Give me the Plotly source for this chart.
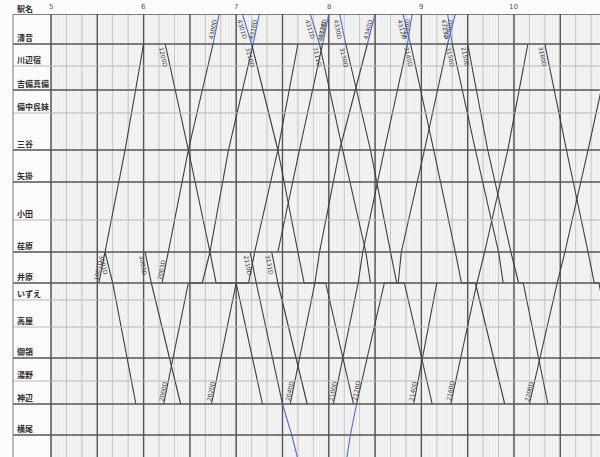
import math
import plotly.graph_objects as go

# ---------------- data ----------------
station_names = ["総社", "清音", "川辺宿", "吉備真備", "備中呉妹", "三谷", "矢掛", "小田",
                 "荏原", "井原", "いずえ", "高屋", "御領", "湯野", "神辺", "横尾", "湯田村"]
station_km = [0, 30, 52, 76, 99, 136, 168, 206, 238, 269, 286, 313, 344, 367, 390, 421, 470]
station_major = [1, 1, 0, 1, 0, 1, 1, 0, 1, 1, 0, 0, 1, 0, 1, 1, 0]
station_labelled = [0, 1, 1, 1, 1, 1, 1, 1, 1, 1, 1, 1, 1, 1, 1, 1, 0]

hour_ticks = [5, 6, 7, 8, 9, 10]
hour_labels = ["5", "6", "7", "8", "9", "10"]

train_ids = ["3001D", "3003D", "1200D", "3110D", "3111D", "3130D", "3140D", "3150D", "2150D", "3160D",
             "2110D", "3131D",
             "1001D", "2003D", "2000D", "2020D", "4311D", "2040D", "2100D", "2120D", "2140D", "2160D", "2200D"]
# number used on the 総社–清音 (JR) section, "" where the train does not run there
train_jr_ids = ["", "", "", "4301D", "4311D", "4330D", "4312D", "4313D", "", "",
                "", "",
                "", "4300D", "4310D", "", "4320D", "4340D", "4350D", "4360D", "", "", ""]
train_stations = [
    ["荏原", "井原", "神辺"],
    ["荏原", "井原", "神辺"],
    ["清音", "三谷", "荏原", "井原", "井原", "神辺"],
    ["総社", "清音", "三谷", "荏原", "井原", "井原", "神辺"],
    ["総社", "清音", "三谷", "荏原", "井原"],
    ["総社", "清音", "三谷", "荏原", "井原", "井原", "神辺"],
    ["総社", "清音", "三谷", "荏原", "井原", "井原", "神辺"],
    ["総社", "清音", "三谷", "荏原", "井原"],
    ["清音", "三谷", "荏原", "井原", "井原", "神辺"],
    ["清音", "三谷", "荏原", "井原", "井原", "神辺"],
    ["荏原", "井原", "神辺", "横尾", "湯田村"],
    ["荏原", "井原", "神辺"],
    ["井原", "荏原", "三谷", "清音"],
    ["井原", "荏原", "三谷", "清音", "総社"],
    ["神辺", "井原", "井原", "荏原", "三谷", "清音", "総社"],
    ["神辺", "井原", "井原", "荏原", "三谷", "清音"],
    ["荏原", "三谷", "清音", "総社"],
    ["神辺", "井原", "荏原", "三谷", "清音", "総社"],
    ["神辺", "井原", "荏原", "三谷", "清音", "総社"],
    ["湯田村", "横尾", "神辺", "井原", "井原", "荏原", "三谷", "清音", "総社"],
    ["神辺", "井原"],
    ["神辺", "井原", "荏原", "三谷", "清音"],
    ["神辺", "井原", "荏原", "三谷", "清音"],
]
train_times = [
    ["5:35", "5:40", "5:55"],
    ["6:01", "6:05", "6:24"],
    ["6:14", "6:29", "6:43", "6:47", "7:00", "7:17"],
    ["7:04", "7:10", "7:27", "7:40", "7:44", "7:58", "8:16"],
    ["7:48", "7:54", "8:09", "8:24", "8:27"],
    ["8:07", "8:11", "8:27", "8:40", "8:44", "8:49", "9:07"],
    ["8:48", "8:53", "9:08", "9:22", "9:26", "9:35", "9:54"],
    ["9:17", "9:20", "9:35", "9:50", "9:53"],
    ["9:30", "9:43", "9:58", "10:03", "10:06", "10:22"],
    ["10:20", "10:34", "10:48", "10:52", "10:55", "11:11"],
    ["7:09", "7:13", "7:30", "7:36", "7:44"],
    ["7:23", "7:27", "7:46"],
    ["5:31", "5:35", "5:48", "6:00"],
    ["6:12", "6:16", "6:29", "6:45", "6:49"],
    ["6:13", "6:29", "6:38", "6:43", "6:55", "7:11", "7:15"],
    ["6:44", "7:00", "7:08", "7:12", "7:27", "7:40"],
    ["7:27", "7:41", "7:56", "8:00"],
    ["7:35", "7:51", "7:54", "8:07", "8:25", "8:30"],
    ["8:03", "8:19", "8:22", "8:36", "8:51", "8:54"],
    ["8:09", "8:14", "8:18", "8:36", "8:45", "8:47", "9:02", "9:17", "9:22"],
    ["8:55", "9:10"],
    ["9:19", "9:36", "9:41", "9:56", "10:09"],
    ["10:10", "10:28", "10:33", "10:48", "11:03"],
]
# station next to which each train number is written
train_label_at = ["荏原", "荏原", "清音", "清音", "清音", "清音", "清音", "清音", "清音", "清音",
                  "荏原", "荏原",
                  "井原", "井原", "神辺", "神辺", "清音", "神辺", "神辺", "神辺", "神辺", "神辺", "神辺"]

# ---------------- helpers ----------------
pos = dict(zip(station_names, station_km))
outer = {"総社", "横尾", "湯田村"}


def to_h(s):
    h, m = s.split(":")
    return int(h) + int(m) / 60.0


X0, X1 = 4.5896, 10.929
Y_BOTTOM = 443
PX_PER_H = 587 / (X1 - X0)

fig = go.Figure()


def vlines(step_min, color, width):
    xs, ys = [], []
    m = 0
    while 5 + m / 60.0 <= X1:
        xs += [5 + m / 60.0, 5 + m / 60.0, None]
        ys += [0, Y_BOTTOM, None]
        m += step_min
    fig.add_trace(go.Scatter(x=xs, y=ys, mode="lines", line=dict(color=color, width=width),
                             hoverinfo="skip", showlegend=False))


vlines(1, "#ebebeb", 1)
vlines(10, "#c4c4c4", 1)
vlines(30, "#555555", 1.4)

for name, km, major in zip(station_names, station_km, station_major):
    if km > Y_BOTTOM:
        continue
    fig.add_shape(type="line", xref="paper", x0=0, x1=1, y0=km, y1=km,
                  line=dict(color="#555555" if major else "#b8b8b8", width=1.4 if major else 1))

fig.add_shape(type="line", xref="paper", yref="paper", x0=0, x1=0, y0=0, y1=1,
              line=dict(color="#777777", width=1))


def add_label(text, sts, tms, at, frac_px):
    i = sts.index(at)
    if i == len(sts) - 1:
        i -= 1
    j = i + 1
    xa, ya = to_h(tms[i]), pos[sts[i]]
    xb, yb = to_h(tms[j]), pos[sts[j]]
    dy = yb - ya
    f = min(0.5, frac_px / abs(dy)) if dy else 0.5
    lx, ly = xa + (xb - xa) * f, ya + dy * f
    ang = math.degrees(math.atan2(dy, (xb - xa) * PX_PER_H))
    if ang > 90:
        ang -= 180
    if ang < -90:
        ang += 180
    fig.add_annotation(x=lx, y=ly, text=text, showarrow=False, textangle=ang, xshift=-4,
                       font=dict(size=6, color="#3a3a3a", family="DejaVu Sans"))


kx, ky, bx, by = [], [], [], []
for tid, jid, sts, tms, lab in zip(train_ids, train_jr_ids, train_stations, train_times, train_label_at):
    for i in range(len(sts) - 1):
        a, b = sts[i], sts[i + 1]
        seg_x = [to_h(tms[i]), to_h(tms[i + 1]), None]
        seg_y = [pos[a], pos[b], None]
        if a in outer or b in outer:
            bx += seg_x; by += seg_y
        else:
            kx += seg_x; ky += seg_y
    if lab:
        add_label(tid, sts, tms, lab, 13.0)
    if jid:
        add_label(jid, sts, tms, "総社", 15.0)

fig.add_trace(go.Scatter(x=kx, y=ky, mode="lines", line=dict(color="#3a3a3a", width=1.1),
                         hoverinfo="skip", showlegend=False))
fig.add_trace(go.Scatter(x=bx, y=by, mode="lines", line=dict(color="#4a6fd8", width=1.1),
                         hoverinfo="skip", showlegend=False))

for name, km, lab in zip(station_names, station_km, station_labelled):
    if not lab:
        continue
    fig.add_annotation(xref="paper", x=0.003, y=km, yanchor="bottom", xanchor="left",
                       text="<b>" + name + "</b>", showarrow=False, yshift=-1,
                       font=dict(size=8, color="#2e2e2e", family="Noto Sans CJK JP"))

fig.add_annotation(xref="paper", yref="paper", x=0.003, y=1, yanchor="bottom", xanchor="left",
                   text="<b>駅名</b>", showarrow=False, yshift=-2,
                   font=dict(size=8, color="#2e2e2e", family="Noto Sans CJK JP"))

for h, lab in zip(hour_ticks, hour_labels):
    fig.add_annotation(x=h, yref="paper", y=1, yanchor="bottom", xanchor="center",
                       text=lab, showarrow=False, yshift=1,
                       font=dict(size=7, color="#555555", family="DejaVu Sans"))

fig.update_layout(
    width=600, height=457,
    margin=dict(l=13, r=0, t=14, b=0),
    paper_bgcolor="#fbfbfb", plot_bgcolor="#fbfbfb",
    xaxis=dict(range=[X0, X1], visible=False, fixedrange=True),
    yaxis=dict(range=[Y_BOTTOM, 0], visible=False, fixedrange=True),
    showlegend=False,
)

fig.write_html("out.html", config={"displayModeBar": False, "staticPlot": True},
               post_script="document.body.style.margin='0px';")
